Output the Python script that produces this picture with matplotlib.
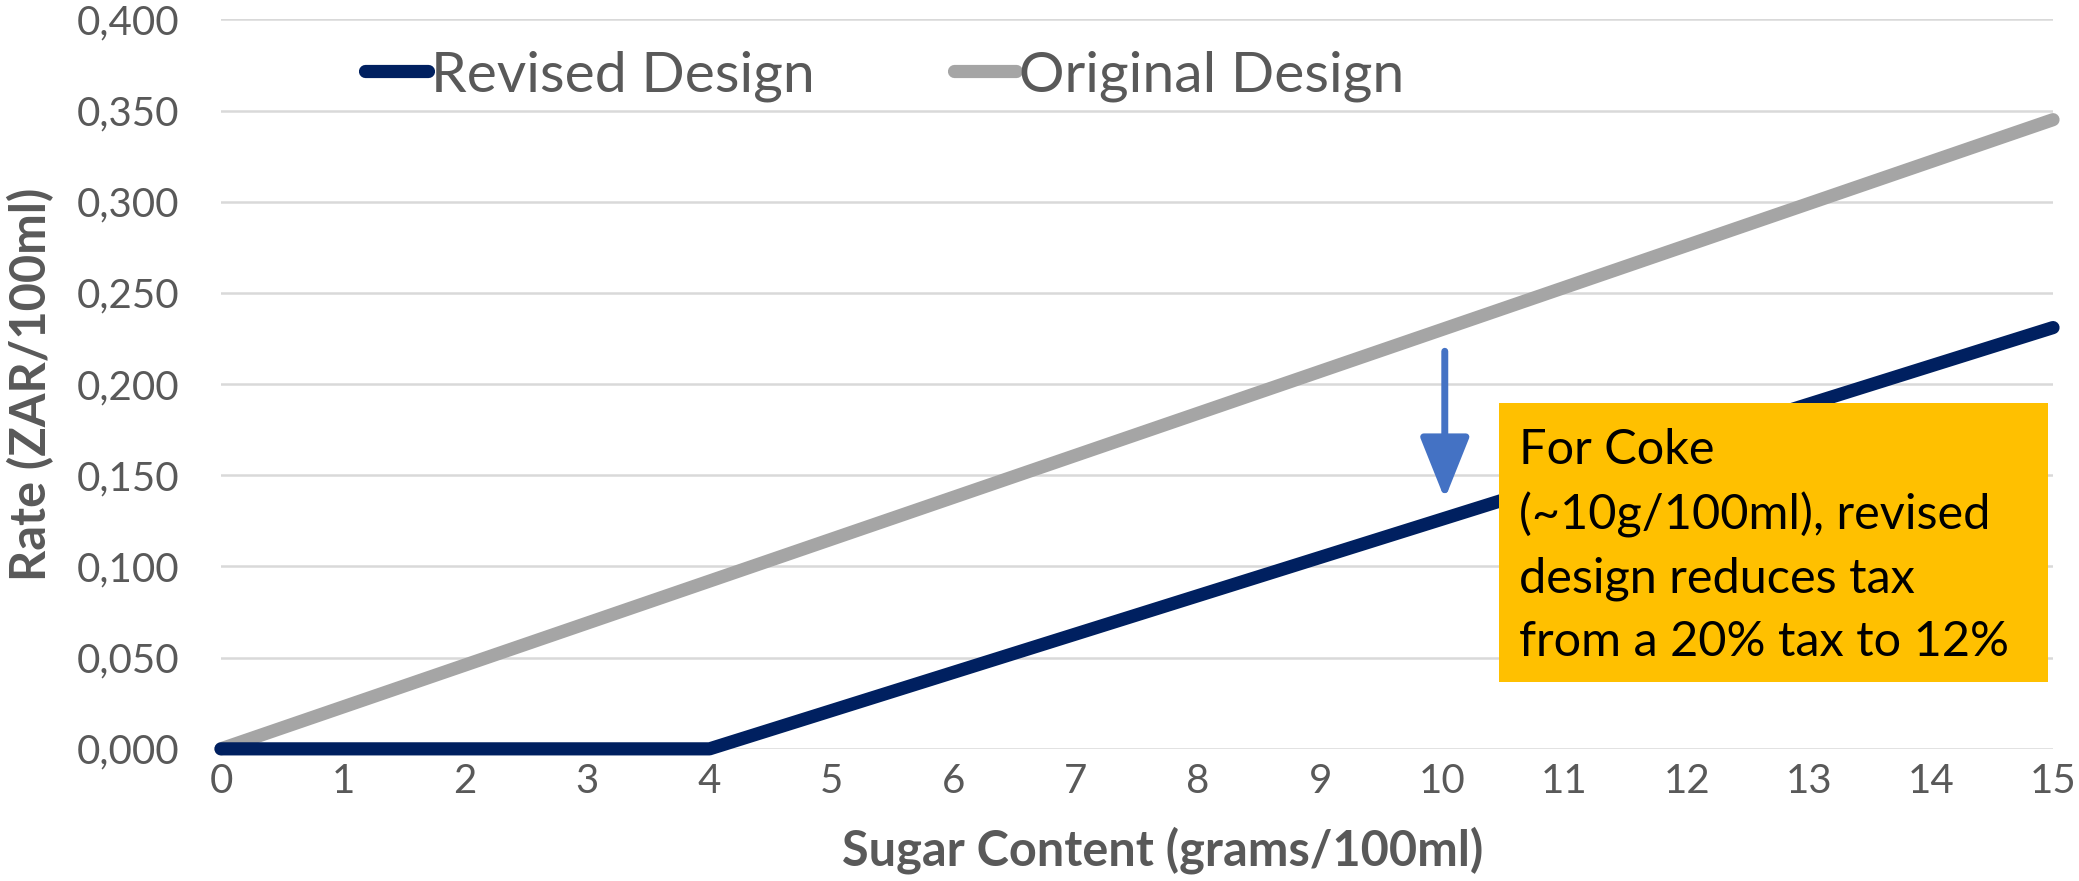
import matplotlib
matplotlib.use("Agg")
import matplotlib.pyplot as plt
from matplotlib.ticker import FuncFormatter
from matplotlib.patches import Rectangle

# sugar content (g/100ml) and tax rates (ZAR/100ml)
sugar = [0, 1, 2, 3, 4, 5, 6, 7, 8, 9, 10, 11, 12, 13, 14, 15]
revised = [0, 0, 0, 0, 0, 0.021, 0.042, 0.063, 0.084, 0.105, 0.126,
           0.147, 0.168, 0.189, 0.210, 0.231]
original = [0, 0.023, 0.046, 0.069, 0.092, 0.115, 0.138, 0.161, 0.184,
            0.207, 0.230, 0.253, 0.276, 0.299, 0.322, 0.345]
y_ticks = [0, 0.05, 0.10, 0.15, 0.20, 0.25, 0.30, 0.35, 0.40]

note = "For Coke\n(~10g/100ml), revised\ndesign reduces tax\nfrom a 20% tax to 12%"

plt.rcParams['font.family'] = ['Lato', 'DejaVu Sans']

fig = plt.figure(figsize=(20.79, 8.81), dpi=100)
ax = fig.add_axes([0.1063, 0.150, 0.8812, 0.828])

grey_txt = '#595959'

ax.plot(sugar, original, color='#A5A5A5', lw=9.5, solid_capstyle='round',
        label='Original Design', clip_on=False, zorder=3)
ax.plot(sugar, revised, color='#002060', lw=9.5, solid_capstyle='round',
        label='Revised Design', clip_on=False, zorder=3)

ax.set_xlim(0, 15)
ax.set_ylim(0, 0.4)
ax.set_xticks(sugar)
ax.set_yticks(y_ticks)
ax.yaxis.set_major_formatter(FuncFormatter(lambda v, p: f"{v:.3f}".replace('.', ',')))
ax.tick_params(length=0, labelsize=29, labelcolor=grey_txt)
ax.tick_params(axis='x', pad=10)
ax.tick_params(axis='y', pad=30)
ax.grid(axis='y', color='#D9D9D9', lw=1.8)
ax.set_axisbelow(True)
for s in ax.spines.values():
    s.set_visible(False)

ax.set_xlabel('Sugar Content (grams/100ml)', fontsize=35, fontweight='bold',
              color=grey_txt)
ax.xaxis.set_label_coords(0.514, -0.106)
ax.set_ylabel('Rate (ZAR/100ml)', fontsize=35, fontweight='bold',
              color=grey_txt, labelpad=16)

# legend: revised first
h, l = ax.get_legend_handles_labels()
leg = ax.legend(h[::-1], l[::-1], ncol=2, loc='center left',
                bbox_to_anchor=(0.1756, 0.914), bbox_transform=fig.transFigure,
                frameon=False, fontsize=41, handlelength=1.1, handletextpad=0.05,
                columnspacing=2.45, borderpad=0, borderaxespad=0)
for t in leg.get_texts():
    t.set_color(grey_txt)

# arrow at Coke level
ax.annotate('', xy=(10.02, 0.137), xytext=(10.02, 0.218),
            arrowprops=dict(arrowstyle='-|>,head_width=0.38,head_length=0.95',
                            color='#4472C4', lw=5, mutation_scale=40,
                            shrinkA=0, shrinkB=0), zorder=4)

# orange note box
ax.add_patch(Rectangle((0.6975, 0.0915), 0.2995, 0.382, transform=ax.transAxes,
                       facecolor='#FFC000', edgecolor='none', zorder=5))
ax.text(0.7085, 0.440, note, transform=ax.transAxes, fontsize=35,
        color='black', va='top', ha='left', linespacing=1.52, zorder=6)

fig.savefig('out.png', dpi=100)
